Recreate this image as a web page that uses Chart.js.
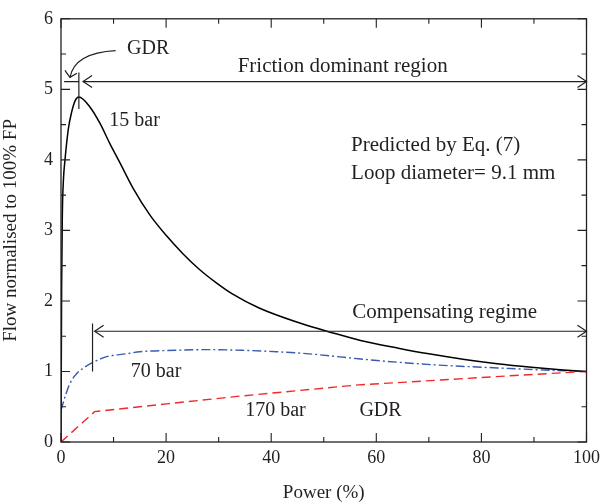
<!DOCTYPE html>
<html>
<head>
<meta charset="utf-8">
<script src="https://cdn.jsdelivr.net/npm/chart.js@4.4.1/dist/chart.umd.min.js"></script>
<style>
  html, body { margin: 0; padding: 0; background: #fff; }
  #wrap { width: 605px; height: 504px; }
</style>
</head>
<body>
<div id="wrap"><canvas id="c" width="605" height="504"></canvas></div>
<script>
// Flow normalised to 100% full power, versus power, for three pressures
const power15 = [0, 0.05, 0.12, 0.25, 0.45, 0.76, 1.4, 2.0, 2.7, 3.4, 5.5, 7.4, 9.3, 11.2, 13.7, 16.9, 20, 23.2, 26.3, 29.5, 32.6, 37.7, 45.3, 51.6, 57, 64.2, 70, 76.8, 83, 89.5, 95, 100];
const flow15  = [0, 1.0, 2.2, 3.2, 3.7, 4.0, 4.44, 4.67, 4.84, 4.89, 4.75, 4.52, 4.23, 3.96, 3.60, 3.22, 2.93, 2.67, 2.45, 2.26, 2.10, 1.90, 1.69, 1.55, 1.44, 1.33, 1.25, 1.17, 1.11, 1.06, 1.025, 1.0];

const power70 = [0, 0.8, 1.7, 3, 4.5, 6.1, 8.7, 12.4, 15, 21.9, 28, 34.5, 41, 47.2, 56.6, 64.2, 72, 83.1, 92, 100];
const flow70  = [0.45, 0.65, 0.83, 0.97, 1.06, 1.13, 1.21, 1.25, 1.28, 1.30, 1.31, 1.30, 1.28, 1.25, 1.18, 1.13, 1.09, 1.05, 1.02, 1.0];

const power170 = [0, 6.4, 20, 34, 45.3, 56.6, 66, 76.8, 88, 100];
const flow170  = [0, 0.43, 0.54, 0.65, 0.73, 0.81, 0.85, 0.90, 0.95, 1.0];

const xTicks = [0, 20, 40, 60, 80, 100];
const yTicks = [0, 1, 2, 3, 4, 5, 6];

const FONT = '"Liberation Serif", "DejaVu Serif", serif';
const INK = '#231f20';

function pts(xs, ys) { return xs.map((x, i) => ({ x: x, y: ys[i] })); }

// Inward ticks on all four sides, closed frame, and the region annotations
const decor = {
  id: 'decor',
  afterDatasetsDraw(chart) {
    const { ctx, chartArea: a, scales: { x, y } } = chart;
    const X = v => x.getPixelForValue(v);
    const Y = v => y.getPixelForValue(v);
    ctx.save();
    ctx.strokeStyle = INK;
    ctx.lineWidth = 1.3;
    ctx.strokeRect(a.left, a.top, a.right - a.left, a.bottom - a.top);

    ctx.lineWidth = 1.1;
    ctx.beginPath();
    for (let v = 0; v <= 100; v += 10) {
      const len = v % 20 === 0 ? 9 : 5;
      const px = X(v);
      ctx.moveTo(px, a.bottom); ctx.lineTo(px, a.bottom - len);
      ctx.moveTo(px, a.top); ctx.lineTo(px, a.top + len);
    }
    for (let v = 0; v <= 6; v += 0.5) {
      const len = Number.isInteger(v) ? 9 : 5;
      const py = Y(v);
      ctx.moveTo(a.left, py); ctx.lineTo(a.left + len, py);
      ctx.moveTo(a.right, py); ctx.lineTo(a.right - len, py);
    }
    ctx.stroke();

    function head(px, py, dir) {
      // open arrowhead, dir = +1 points right, -1 left
      ctx.beginPath();
      ctx.moveTo(px - dir * 9, py - 6);
      ctx.lineTo(px, py);
      ctx.lineTo(px - dir * 9, py + 6);
      ctx.stroke();
    }

    ctx.lineWidth = 1.2;
    // friction dominant region
    const fy = Y(5.11);
    ctx.beginPath();
    ctx.moveTo(X(4.2), fy); ctx.lineTo(X(100), fy);
    ctx.moveTo(X(0.6), fy); ctx.lineTo(X(3.4), fy);
    ctx.moveTo(X(3.4), Y(5.24)); ctx.lineTo(X(3.4), Y(4.72));
    ctx.stroke();
    head(X(4.2), fy, -1);
    head(X(100), fy, 1);

    // curved pointer from the upper GDR label
    const tx = X(1.7), ty = Y(5.17);
    ctx.beginPath();
    ctx.moveTo(X(10.4), Y(5.55));
    ctx.quadraticCurveTo(X(2.6), Y(5.52), tx, ty);
    ctx.stroke();
    ctx.beginPath();
    ctx.moveTo(tx - 5, ty - 7); ctx.lineTo(tx, ty); ctx.lineTo(tx + 7, ty - 4);
    ctx.stroke();

    // compensating regime
    const cy = Y(1.57);
    ctx.beginPath();
    ctx.moveTo(X(6.4), cy); ctx.lineTo(X(100), cy);
    ctx.moveTo(X(6.0), Y(1.68)); ctx.lineTo(X(6.0), Y(1.0));
    ctx.stroke();
    head(X(6.4), cy, -1);
    head(X(100), cy, 1);

    ctx.fillStyle = INK;
    ctx.textBaseline = 'middle';
    ctx.textAlign = 'center';
    ctx.font = '20px ' + FONT;
    ctx.fillText('GDR', X(16.6), Y(5.57));
    ctx.fillText('15 bar', X(14), Y(4.56));
    ctx.fillText('70 bar', X(18.1), Y(0.99));
    ctx.fillText('170 bar', X(40.8), Y(0.45));
    ctx.fillText('GDR', X(60.8), Y(0.45));
    ctx.font = '21px ' + FONT;
    ctx.fillText('Friction dominant region', X(53.6), Y(5.32));
    ctx.fillText('Compensating regime', X(73.0), Y(1.84));
    ctx.textAlign = 'left';
    ctx.fillText('Predicted by Eq. (7)', X(55.2), Y(4.21));
    ctx.fillText('Loop diameter= 9.1 mm', X(55.2), Y(3.81));
    ctx.restore();
  }
};

new Chart(document.getElementById('c'), {
  type: 'scatter',
  data: {
    datasets: [
      {
        label: '15 bar',
        data: pts(power15, flow15),
        showLine: true,
        borderColor: '#000',
        borderWidth: 1.5,
        pointRadius: 0,
        cubicInterpolationMode: 'monotone'
      },
      {
        label: '70 bar',
        data: pts(power70, flow70),
        showLine: true,
        borderColor: '#3a5bb0',
        borderWidth: 1.4,
        borderDash: [9, 3, 2, 3],
        pointRadius: 0,
        cubicInterpolationMode: 'monotone'
      },
      {
        label: '170 bar',
        data: pts(power170, flow170),
        showLine: true,
        borderColor: '#ee2a2a',
        borderWidth: 1.4,
        borderDash: [9, 5],
        pointRadius: 0,
        tension: 0
      }
    ]
  },
  options: {
    responsive: false,
    animation: false,
    events: [],
    layout: { padding: { left: 0, right: 16, top: 16, bottom: 0 } },
    plugins: { legend: { display: false }, tooltip: { enabled: false } },
    scales: {
      x: {
        type: 'linear', min: 0, max: 100,
        afterBuildTicks: s => { s.ticks = xTicks.map(v => ({ value: v })); },
        afterFit: s => { s.height = 62; },
        grid: { display: false, drawTicks: false },
        border: { display: false },
        ticks: { color: INK, font: { family: FONT, size: 18 }, padding: 5, maxRotation: 0 },
        title: { display: true, text: 'Power (%)', color: INK, font: { family: FONT, size: 19 }, padding: { top: 2, bottom: 0 } }
      },
      y: {
        type: 'linear', min: 0, max: 6,
        afterBuildTicks: s => { s.ticks = yTicks.map(v => ({ value: v })); },
        afterFit: s => { s.width = 61; },
        grid: { display: false, drawTicks: false },
        border: { display: false },
        ticks: { color: INK, font: { family: FONT, size: 18 }, padding: 8 },
        title: { display: true, text: 'Flow normalised to 100% FP', color: INK, font: { family: FONT, size: 19 }, padding: { top: 0, bottom: 4 } }
      }
    }
  },
  plugins: [decor]
});
</script>
</body>
</html>
